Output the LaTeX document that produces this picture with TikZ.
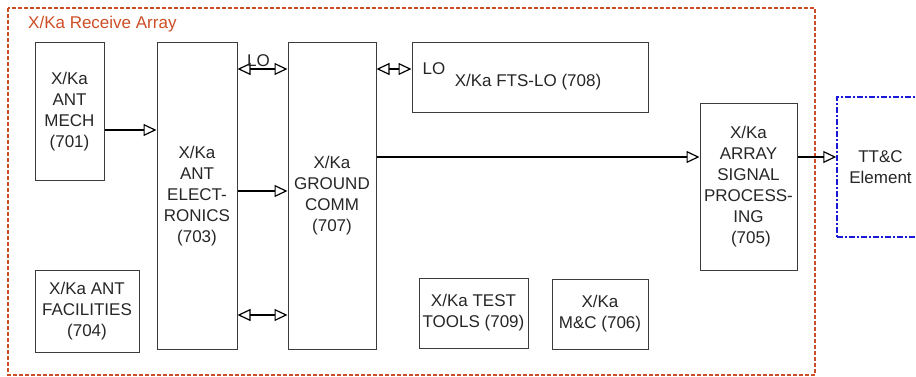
\documentclass[tikz,border=0pt]{standalone}
\usepackage{fontspec}
\setmainfont{Liberation Sans}
\usetikzlibrary{arrows.meta, positioning, calc}

\definecolor{framered}{RGB}{205,78,38}
\definecolor{ttcblue}{RGB}{25,25,215}
\definecolor{boxgray}{RGB}{60,60,60}

\begin{document}
\begin{tikzpicture}[
        x=1pt, y=-1pt,
        every node/.style={
            font=\fontsize{17}{21}\selectfont,
            text=black!85
        },
        box/.style={
            draw=boxgray,
            line width=1pt,
            align=center,
            inner sep=0pt
        },
        arrow/.style={
            -{Triangle[open, length=13pt, width=12pt, line width=1.2pt]},
            line width=1.8pt
        },
        dblarrow/.style={
            {Triangle[open, length=13pt, width=12pt, line width=1.2pt]}-{Triangle[open, length=13pt, width=12pt, line width=1.2pt]},
            line width=1.8pt
        }
    ]

    \clip (0,0) rectangle (916,377);

    % receive array frame
    \draw[framered, line width=1.5pt, dash pattern=on 4pt off 2pt] (8,8) rectangle (815,375);
    \node[anchor=west, inner sep=0pt, text=framered] (title) at (28,24) {X/Ka Receive Array};

    \node[box, minimum width=69pt, minimum height=138pt] (mech) at (69.5,112)
    {X/Ka\\ANT\\MECH\\(701)};

    \node[box, minimum width=80pt, minimum height=306pt] (elec) at (197,196)
    {X/Ka\\ANT\\ELECT-\\RONICS\\(703)};

    \node[box, minimum width=88pt, minimum height=306pt] (gnd) at (332,196)
    {X/Ka\\GROUND\\COMM\\(707)};

    \node[box, minimum width=236pt, minimum height=70pt] (fts) at (530,78) {};
    \node (ftstext) at (528,82) {X/Ka FTS-LO (708)};
    \node[inner sep=0pt] (ftslo) at (434,69) {LO};

    \node[box, minimum width=97pt, minimum height=166pt] (asp) at (748.5,187)
    {X/Ka\\ARRAY\\SIGNAL\\PROCESS-\\ING\\\ (705)};

    \node[box, minimum width=104pt, minimum height=82pt] (fac) at (87,311)
    {X/Ka ANT\\FACILITIES\\(704)};

    \node[box, minimum width=109pt, minimum height=70pt] (tools) at (473.5,313)
    {X/Ka TEST\\TOOLS (709)};

    \node[box, minimum width=96pt, minimum height=70pt] (mc) at (600,314)
    {X/Ka\\M\&C (706)};

    % external element
    \node[draw=ttcblue, line width=1.5pt, dash pattern=on 6pt off 2pt on 2pt off 2pt,
          minimum width=87pt, minimum height=140pt, align=center] (ttc) at (880.5,167)
    {TT\&C\\Element};

    \coordinate (lvlLO) at (0,69);
    \coordinate (lvlM) at (0,130);
    \coordinate (lvlS) at (0,157);
    \coordinate (lvlE) at (0,191);
    \coordinate (lvlF) at (0,315);

    \draw[arrow] (mech.east |- lvlM) -- (elec.west |- lvlM);
    \draw[dblarrow] (elec.east |- lvlLO) -- node[above, inner sep=1pt, xshift=-4pt] (lolbl) {LO} (gnd.west |- lvlLO);
    \draw[arrow] (elec.east |- lvlE) -- (gnd.west |- lvlE);
    \draw[dblarrow] (elec.east |- lvlF) -- (gnd.west |- lvlF);
    \draw[dblarrow] (gnd.east |- lvlLO) -- (fts.west |- lvlLO);
    \draw[arrow] (gnd.east |- lvlS) -- (asp.west |- lvlS);
    \draw[arrow] (asp.east |- lvlS) -- (ttc.west |- lvlS);

    \end{tikzpicture}
\end{document}
